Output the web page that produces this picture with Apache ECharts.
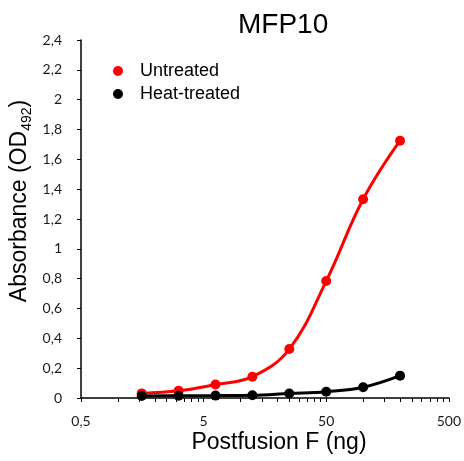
<!DOCTYPE html>
<html>
<head>
<meta charset="utf-8">
<script src="https://cdn.jsdelivr.net/npm/echarts@6/dist/echarts.min.js"></script>
<style>
html,body{margin:0;padding:0;background:#fff;}
#chart{width:464px;height:461px;}
</style>
</head>
<body>
<div id="chart"></div>
<script>
// Data
const amountsNg = [1.5625, 3.125, 6.25, 12.5, 25, 50, 100, 200];
const untreated = [0.031, 0.048, 0.09, 0.143, 0.328, 0.784, 1.332, 1.725];
const heatTreated = [0.014, 0.015, 0.016, 0.018, 0.03, 0.042, 0.072, 0.15];
const xMajorTicks = [0.5, 5, 50, 500];
const yTicksMax = 2.4;

const xMinorTicks = [];
[0.5, 5, 50].forEach(d => { for (let k = 1; k <= 9; k++) xMinorTicks.push(+(d * k).toPrecision(6)); });
xMinorTicks.push(500);

const fmt = v => String(+v.toFixed(4)).replace('.', ',');

const chart = echarts.init(document.getElementById('chart'), null, {renderer: 'canvas'});
chart.setOption({
  backgroundColor: '#fff',
  animation: false,
  title: {
    text: 'MFP10',
    left: 233, top: 6,
    textStyle: {fontFamily: 'Liberation Sans, Arial, sans-serif', fontSize: 28, fontWeight: 'normal', color: '#000'}
  },
  legend: {
    orient: 'vertical',
    left: 108, top: 56,
    itemWidth: 10, itemHeight: 10, itemGap: 3,
    icon: 'circle',
    textStyle: {fontFamily: 'Liberation Sans, Arial, sans-serif', fontSize: 18, color: '#000', lineHeight: 20, padding: [0, 0, 0, 12]},
    data: ['Untreated', 'Heat-treated']
  },
  grid: {left: 81, right: 14, top: 40, bottom: 63, containLabel: false},
  xAxis: {
    type: 'log', logBase: 10, min: 0.5, max: 500,
    axisLine: {lineStyle: {color: '#000', width: 1.5}},
    axisTick: {show: true, length: 4, inside: false, customValues: xMinorTicks, lineStyle: {color: '#000', width: 1}},
    minorTick: {show: false},
    splitLine: {show: false},
    axisLabel: {customValues: xMajorTicks, formatter: v => fmt(v), margin: 16, fontFamily: 'Lato, sans-serif', fontSize: 14, color: '#1a1a1a'}
  },
  yAxis: {
    type: 'value', min: 0, max: yTicksMax, interval: 0.2,
    axisLine: {show: true, lineStyle: {color: '#000', width: 1.5}},
    axisTick: {show: true, length: 4, inside: false, lineStyle: {color: '#000', width: 1}},
    splitLine: {show: false},
    axisLabel: {formatter: v => fmt(v), margin: 19, fontFamily: 'Lato, sans-serif', fontSize: 14, color: '#1a1a1a'}
  },
  graphic: [
    {
      type: 'text', x: 20, y: 201, rotation: Math.PI / 2,
      style: {
        text: '{a|Absorbance (OD}{s|492}{a|)}',
        align: 'center', verticalAlign: 'middle',
        rich: {
          a: {fontFamily: 'Liberation Sans, Arial, sans-serif', fontSize: 23, fill: '#000'},
          s: {fontFamily: 'Liberation Sans, Arial, sans-serif', fontSize: 14, fill: '#000', padding: [14, 0, 0, 0]}
        }
      }
    },
    {
      type: 'text', x: 279, y: 443,
      style: {
        text: 'Postfusion F (ng)', align: 'center', verticalAlign: 'middle',
        font: '23px "Liberation Sans", Arial, sans-serif', fill: '#000'
      }
    }
  ],
  series: [
    {
      name: 'Untreated', type: 'line', smooth: 0.4,
      data: amountsNg.map((x, i) => [x, untreated[i]]),
      symbol: 'circle', symbolSize: 10,
      itemStyle: {color: '#ff0000'},
      lineStyle: {color: '#ff0000', width: 3},
      z: 2
    },
    {
      name: 'Heat-treated', type: 'line', smooth: 0.4,
      data: amountsNg.map((x, i) => [x, heatTreated[i]]),
      symbol: 'circle', symbolSize: 10,
      itemStyle: {color: '#000000'},
      lineStyle: {color: '#000000', width: 3},
      z: 3
    }
  ]
});
</script>
</body>
</html>
